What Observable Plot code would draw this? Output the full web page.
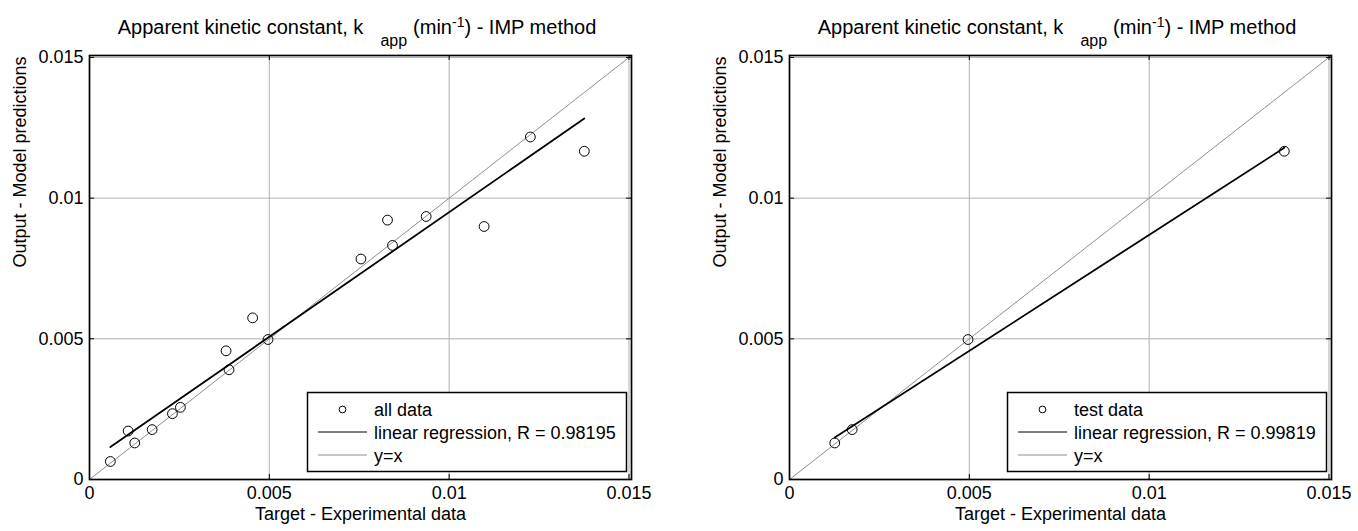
<!DOCTYPE html>
<html><head><meta charset="utf-8">
<script src="https://cdn.jsdelivr.net/npm/d3@7"></script>
<script src="https://cdn.jsdelivr.net/npm/@observablehq/plot@0.6"></script>
<style>
body{margin:0;background:#fff;}
#wrap{display:flex;width:1358px;height:531px;overflow:hidden;background:#fff;}
</style></head><body><div id="wrap"></div>
<script>
// ---- data ----
const allTarget = [0.00058, 0.001075, 0.001258, 0.001742, 0.002306, 0.002528, 0.003797, 0.00388, 0.004536, 0.004964, 0.007547, 0.008286, 0.008425, 0.009361, 0.010972, 0.012258, 0.013758];
const allOutput = [0.00064, 0.001723, 0.001298, 0.001773, 0.00234, 0.002564, 0.004574, 0.0039, 0.005745, 0.004975, 0.007837, 0.00922, 0.008319, 0.009348, 0.008993, 0.012174, 0.011667];
const testTarget = [0.001258, 0.001742, 0.004964, 0.013758];
const testOutput = [0.001298, 0.001773, 0.004975, 0.011667];
const axisTicks = [0, 0.005, 0.01, 0.015];
const axisEnds = [0, 0.01507];
const legendAll = ["all data", "linear regression, R = 0.98195", "y=x"];
const legendTest = ["test data", "linear regression, R = 0.99819", "y=x"];
const xLabel = "Target - Experimental data";
const yLabel = "Output - Model predictions";

const FONT = "'Liberation Sans', Arial, Helvetica, sans-serif";

function panel(xs, ys, legendTexts, W) {
  const data = xs.map((x, i) => ({x, y: ys[i]}));
  const H = 531, mL = 89, mT = 55, mB = 52, mR = W - 631;
  const fw = 631 - mL, fh = H - mT - mB;
  const svg = Plot.plot({
    width: W, height: H,
    marginLeft: mL, marginRight: mR, marginTop: mT, marginBottom: mB,
    x: {domain: axisEnds},
    y: {domain: axisEnds},
    style: {fontFamily: FONT, fontSize: "18px", background: "white", color: "black", overflow: "visible"},
    marks: [
      Plot.gridX(axisTicks, {stroke: "#b0b0b0", strokeOpacity: 1, strokeWidth: 1}),
      Plot.gridY(axisTicks, {stroke: "#b0b0b0", strokeOpacity: 1, strokeWidth: 1}),
      Plot.line(axisEnds, {x: d => d, y: d => d, stroke: "#8f8f8f", strokeWidth: 1}),
      Plot.linearRegressionY(data, {x: "x", y: "y", ci: 0, stroke: "black", strokeWidth: 1.8}),
      Plot.dot(data, {x: "x", y: "y", r: 4.9, fill: "none", stroke: "black", strokeWidth: 1}),
      Plot.ruleX(axisTicks, {insetTop: fh - 5, stroke: "black"}),
      Plot.ruleX(axisTicks, {insetBottom: fh - 5, stroke: "black"}),
      Plot.ruleY(axisTicks, {insetRight: fw - 5, stroke: "black"}),
      Plot.ruleY(axisTicks, {insetLeft: fw - 5, stroke: "black"}),
      Plot.frame({stroke: "black", strokeWidth: 1.7}),
      Plot.axisX(axisTicks, {tickSize: 0, tickPadding: 7, fontSize: 18, tickFormat: d => String(d), label: null}),
      Plot.axisY(axisTicks, {tickSize: 0, tickPadding: 6, fontSize: 18, tickFormat: d => String(d), label: null}),
      Plot.text([xLabel], {text: d => d, frameAnchor: "bottom", dy: 40, fontSize: 18, fill: "black"}),
      Plot.text([yLabel], {text: d => d, frameAnchor: "left", dx: -69, rotate: -90, fontSize: 18, fill: "black"})
    ]
  });
  const s = d3.select(svg);
  // title with subscript / superscript
  const t = s.append("text").attr("x", 357).attr("y", 34).attr("text-anchor", "middle")
    .attr("font-size", 20).attr("font-family", FONT).attr("fill", "black");
  t.append("tspan").text("Apparent kinetic constant, k");
  t.append("tspan").attr("dx", 17).attr("dy", 11.5).attr("font-size", 16).text("app");
  t.append("tspan").attr("dx", 6).attr("dy", -11.5).text("(min");
  t.append("tspan").attr("dy", -7).attr("font-size", 14).text("-1");
  t.append("tspan").attr("dy", 7).text(") - IMP method");
  // legend
  const g = s.append("g").attr("font-family", FONT).attr("font-size", 18).attr("text-anchor", "start");
  g.append("rect").attr("x", 307.5).attr("y", 392.5).attr("width", 319).attr("height", 79)
    .attr("fill", "white").attr("stroke", "black").attr("stroke-width", 1.5);
  g.append("circle").attr("cx", 342.5).attr("cy", 409.5).attr("r", 3.4)
    .attr("fill", "none").attr("stroke", "black").attr("stroke-width", 1);
  g.append("line").attr("x1", 318).attr("x2", 367).attr("y1", 432).attr("y2", 432)
    .attr("stroke", "black").attr("stroke-width", 1);
  g.append("line").attr("x1", 318).attr("x2", 367).attr("y1", 455).attr("y2", 455)
    .attr("stroke", "#8f8f8f").attr("stroke-width", 1);
  const rows = [409.5, 433, 456];
  legendTexts.forEach((txt, i) => {
    g.append("text").attr("x", 374).attr("y", rows[i]).attr("dy", "0.35em")
      .attr("text-anchor", "start").attr("fill", "black").text(txt);
  });
  return svg;
}

const wrap = document.getElementById("wrap");
wrap.appendChild(panel(allTarget, allOutput, legendAll, 700));
wrap.appendChild(panel(testTarget, testOutput, legendTest, 658));
</script>
</body></html>
